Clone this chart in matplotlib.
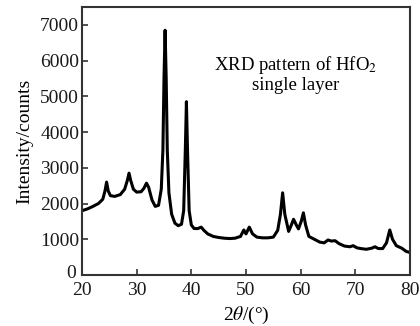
import matplotlib
matplotlib.use("Agg")
import matplotlib.pyplot as plt
import matplotlib.transforms as mtransforms

two_theta = [20.0, 21.0, 22.0, 23.0, 23.8, 24.2, 24.5, 24.8, 25.2, 26.0, 27.0, 27.8, 28.3, 28.6, 28.9,
             29.4, 30.0, 30.8, 31.3, 31.8, 32.2, 32.8, 33.4, 34.0, 34.5, 34.8, 35.0, 35.2, 35.4, 35.6,
             35.9, 36.4, 37.0, 37.6, 38.2, 38.6, 38.9, 39.1, 39.3, 39.6, 40.0, 40.5, 41.2, 41.8, 42.3,
             43.0, 44.0, 45.0, 46.0, 47.0, 48.0, 49.0, 49.6, 50.0, 50.6, 51.2, 52.0, 53.0, 54.0, 55.0,
             55.8, 56.3, 56.7, 57.1, 57.8, 58.3, 58.7, 59.2, 59.6, 60.1, 60.5, 60.9, 61.5, 62.5, 63.5,
             64.3, 65.0, 65.6, 66.3, 67.0, 68.0, 69.0, 69.6, 70.3, 71.0, 72.0, 73.0, 73.6, 74.2, 75.0,
             75.7, 76.3, 76.8, 77.5, 78.5, 79.3, 80.0]
intensity = [1800, 1850, 1920, 2000, 2120, 2350, 2600, 2350, 2220, 2200, 2250, 2400, 2650, 2850, 2650,
             2400, 2320, 2330, 2420, 2570, 2450, 2100, 1920, 1950, 2400, 3500, 5500, 6850, 5500, 3500,
             2300, 1700, 1450, 1380, 1420, 1800, 3500, 4850, 3500, 1800, 1400, 1300, 1300, 1340, 1250,
             1150, 1080, 1050, 1030, 1020, 1030, 1080, 1260, 1150, 1340, 1150, 1060, 1040, 1040, 1060,
             1250, 1700, 2300, 1700, 1220, 1400, 1560, 1400, 1290, 1500, 1740, 1400, 1080, 1000, 920,
             900, 980, 950, 960, 880, 810, 790, 820, 760, 740, 720, 750, 790, 740, 740,
             900, 1260, 1000, 820, 750, 660, 630]

x_ticks = [20, 30, 40, 50, 60, 70, 80]
y_ticks = [0, 1000, 2000, 3000, 4000, 5000, 6000, 7000]

plt.rcParams['font.family'] = ['Liberation Serif', 'DejaVu Serif']
plt.rcParams['mathtext.fontset'] = 'stix'

fig = plt.figure(figsize=(4.2, 3.26), dpi=100)
ax = fig.add_axes([82/420, 1 - 275/326, (410 - 82)/420, (275 - 7)/326])
ax.plot(two_theta, intensity, color='black', lw=2.2, solid_joinstyle='round')
ax.set_xlim(20, 80)
ax.set_ylim(0, 7500)
ax.set_xticks(x_ticks)
ax.set_yticks(y_ticks)
ax.tick_params(direction='in', length=4, width=1.2, labelsize=14, pad=2, colors='#333333',
               labelcolor='#1a1a1a')
ax.tick_params(axis='x', pad=5)
for s in ax.spines.values():
    s.set_linewidth(1.5)
    s.set_color('#333333')
ax.set_xlabel(r'2$\theta$/(°)', fontsize=14, labelpad=4)
ax.set_ylabel('Intensity/counts', fontsize=14, labelpad=5)
ax.text(0.65, 0.75, 'XRD pattern of HfO$_2$\nsingle layer', transform=ax.transAxes,
        ha='center', va='center', fontsize=13.5, linespacing=1.05)

# nudge the "0" y tick label slightly up-left, as in the reference
zero_lbl = ax.get_yticklabels()[0]
zero_lbl.set_transform(zero_lbl.get_transform() +
                       mtransforms.ScaledTranslation(-3/100, 3/100, fig.dpi_scale_trans))
fig.savefig('out.png', dpi=100)
